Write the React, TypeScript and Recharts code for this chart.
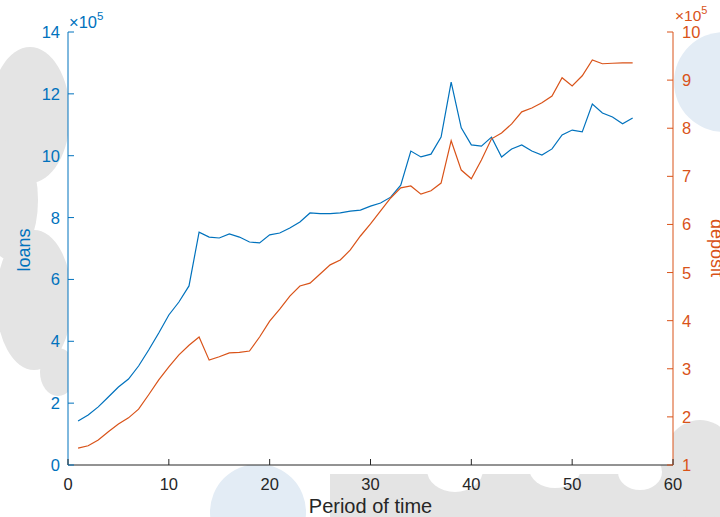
import { LineChart, Line, XAxis, YAxis, CartesianGrid } from "recharts";

// loans and deposit, both in units of 10^5
const periods = [
  1, 2, 3, 4, 5, 6, 7, 8, 9, 10, 11, 12, 13, 14, 15, 16, 17, 18, 19, 20, 21,
  22, 23, 24, 25, 26, 27, 28, 29, 30, 31, 32, 33, 34, 35, 36, 37, 38, 39, 40,
  41, 42, 43, 44, 45, 46, 47, 48, 49, 50, 51, 52, 53, 54, 55, 56,
];
const loans = [
  1.42, 1.62, 1.88, 2.2, 2.52, 2.78, 3.2, 3.72, 4.27, 4.85, 5.27, 5.79, 7.53,
  7.37, 7.34, 7.47, 7.37, 7.21, 7.18, 7.44, 7.5, 7.66, 7.86, 8.15, 8.13, 8.13,
  8.15, 8.21, 8.24, 8.37, 8.47, 8.66, 9.05, 10.15, 9.96, 10.05, 10.6, 12.38,
  10.9, 10.35, 10.31, 10.6, 9.96, 10.22, 10.35, 10.15, 10.02, 10.22, 10.67,
  10.83, 10.77, 11.67, 11.38, 11.25, 11.03, 11.22,
];
const deposit = [
  1.35, 1.4, 1.52, 1.69, 1.85, 1.98, 2.16, 2.46, 2.77, 3.04, 3.29, 3.49, 3.66,
  3.18, 3.25, 3.33, 3.34, 3.37, 3.66, 3.99, 4.24, 4.51, 4.72, 4.78, 4.97, 5.16,
  5.26, 5.47, 5.76, 6.01, 6.28, 6.55, 6.76, 6.8, 6.63, 6.7, 6.86, 7.74, 7.13,
  6.95, 7.34, 7.78, 7.9, 8.09, 8.34, 8.42, 8.53, 8.67, 9.05, 8.88, 9.09, 9.42,
  9.34, 9.35, 9.36, 9.36,
];
const xTicks = [0, 10, 20, 30, 40, 50, 60];
const loanTicks = [0, 2, 4, 6, 8, 10, 12, 14];
const depositTicks = [1, 2, 3, 4, 5, 6, 7, 8, 9, 10];

const data = periods.map((p, i) => ({ period: p, loans: loans[i], deposit: deposit[i] }));

const BLUE = "#0072BD";
const ORANGE = "#D95319";
const DARK = "#262626";
const FONT = "'Liberation Sans', Arial, Helvetica, sans-serif";

const BottomTick = (props: any) => {
  const { x, y, payload } = props;
  return (
    <g>
      <line x1={x} y1={y} x2={x} y2={y - 6} stroke={DARK} strokeWidth={1} />
      <text x={x} y={y + 25} textAnchor="middle" fill={DARK} fontSize={16.5} fontFamily={FONT}>
        {payload.value}
      </text>
    </g>
  );
};

const TopTick = (props: any) => {
  const { x, y } = props;
  return <line x1={x} y1={y} x2={x} y2={y + 6} stroke={DARK} strokeWidth={1} />;
};

const LeftTick = (props: any) => {
  const { x, y, payload } = props;
  return (
    <g>
      <line x1={x} y1={y} x2={x + 6} y2={y} stroke={BLUE} strokeWidth={1} />
      <text x={x - 8} y={y + 6} textAnchor="end" fill={BLUE} fontSize={16.5} fontFamily={FONT}>
        {payload.value}
      </text>
    </g>
  );
};

const RightTick = (props: any) => {
  const { x, y, payload } = props;
  return (
    <g>
      <line x1={x} y1={y} x2={x - 6} y2={y} stroke={ORANGE} strokeWidth={1} />
      <text x={x + 9} y={y + 6} textAnchor="start" fill={ORANGE} fontSize={16.5} fontFamily={FONT}>
        {payload.value}
      </text>
    </g>
  );
};

const Backdrop = () => (
  <svg width={720} height={517} style={{ position: "absolute", left: 0, top: 0 }}>
    <g fill="#e4e4e4">
      <ellipse cx={30} cy={115} rx={40} ry={68} />
      <ellipse cx={10} cy={200} rx={28} ry={60} />
      <ellipse cx={34} cy={300} rx={38} ry={70} />
      <ellipse cx={58} cy={372} rx={18} ry={24} />
      <rect x={330} y={474} width={390} height={43} />
      <ellipse cx={700} cy={470} rx={40} ry={50} />
    </g>
    <g fill="#ffffff">
      <ellipse cx={455} cy={470} rx={28} ry={22} />
      <ellipse cx={555} cy={468} rx={26} ry={20} />
      <ellipse cx={640} cy={472} rx={22} ry={18} />
    </g>
    <g fill="#e3ecf5">
      <ellipse cx={258} cy={512} rx={48} ry={48} />
      <ellipse cx={724} cy={82} rx={50} ry={50} />
    </g>
  </svg>
);

const Annotations = () => (
  <svg width={720} height={517} style={{ position: "absolute", left: 0, top: 0, pointerEvents: "none" }}>
    <text x={69} y={28} fill={BLUE} fontSize={16.5} fontFamily={FONT}>
      ×10
      <tspan dy={-8} fontSize={11.5}>5</tspan>
    </text>
    <text x={675} y={21} fill={ORANGE} fontSize={15.5} fontFamily={FONT}>
      ×10
      <tspan dy={-7} fontSize={11}>5</tspan>
    </text>
    <text
      x={24}
      y={250}
      transform="rotate(-90 24 250)"
      textAnchor="middle"
      dominantBaseline="central"
      fill={BLUE}
      fontSize={18}
      fontFamily={FONT}
    >
      loans
    </text>
    <text
      x={717}
      y={248}
      transform="rotate(90 717 248)"
      textAnchor="middle"
      dominantBaseline="central"
      fill={ORANGE}
      fontSize={18}
      fontFamily={FONT}
    >
      deposit
    </text>
    <text x={370.5} y={513} textAnchor="middle" fill={DARK} fontSize={20} fontFamily={FONT}>
      Period of time
    </text>
  </svg>
);

export default function App() {
  return (
    <div style={{ position: "absolute", left: 0, top: 0, width: 720, height: 517, background: "#fff" }}>
      <Backdrop />
      <div style={{ position: "absolute", left: 0, top: 0 }}>
        <LineChart width={720} height={517} data={data} margin={{ top: 32, right: 0, bottom: 0, left: 0 }}>
          <CartesianGrid horizontal={false} vertical={false} fill="#ffffff" />
          <XAxis
            dataKey="period"
            type="number"
            domain={[0, 60]}
            ticks={xTicks}
            height={52}
            stroke={DARK}
            tickLine={false}
            tickSize={0}
            tickMargin={0}
            tick={<BottomTick />}
            interval={0}
          />
          <XAxis
            xAxisId="top"
            orientation="top"
            dataKey="period"
            type="number"
            domain={[0, 60]}
            ticks={xTicks}
            height={0}
            stroke={DARK}
            tickLine={false}
            tickSize={0}
            tickMargin={0}
            tick={<TopTick />}
            interval={0}
          />
          <YAxis
            yAxisId="left"
            domain={[0, 14]}
            ticks={loanTicks}
            width={68}
            stroke={BLUE}
            tickLine={false}
            tickSize={0}
            tickMargin={0}
            tick={<LeftTick />}
            interval={0}
          />
          <YAxis
            yAxisId="right"
            orientation="right"
            domain={[1, 10]}
            ticks={depositTicks}
            width={47}
            stroke={ORANGE}
            tickLine={false}
            tickSize={0}
            tickMargin={0}
            tick={<RightTick />}
            interval={0}
          />
          <Line
            yAxisId="left"
            dataKey="loans"
            type="linear"
            stroke={BLUE}
            strokeWidth={1.2}
            dot={false}
            isAnimationActive={false}
          />
          <Line
            yAxisId="right"
            dataKey="deposit"
            type="linear"
            stroke={ORANGE}
            strokeWidth={1.2}
            dot={false}
            isAnimationActive={false}
          />
        </LineChart>
      </div>
      <Annotations />
    </div>
  );
}
